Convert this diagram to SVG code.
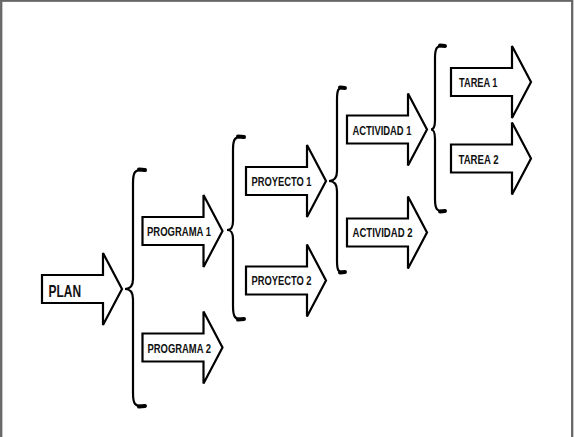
<svg xmlns="http://www.w3.org/2000/svg" xmlns:xlink="http://www.w3.org/1999/xlink" width="574" height="437" viewBox="0 0 574 437">
<style>
.arr{fill:#fff;stroke:#000;stroke-width:2.2;stroke-linejoin:miter}
.lbl{font-family:"Liberation Sans",Arial,sans-serif;font-weight:bold;font-size:12.5px;fill:#111}
.big{font-size:17px}
.brace{fill:none;stroke:#000;stroke-width:2.2;stroke-linecap:round}
.tip{fill:none;stroke:#000;stroke-width:4;stroke-linecap:round}
</style>
<defs>
<path id="arrow" class="arr" d="M0,-14 H61 V-36 L80,0 L61,36 V14 H0 Z"/>
</defs>
<rect x="1.2" y="0.7" width="571" height="460" fill="#fff" stroke="#666" stroke-width="2.3"/>
<g id="connectors">
<path class="brace" d="M144,170 C135,169 133,172 133,183 L133,279 C133,286 130,289 125,289 C130,289 133,292 133,299 L133,393 C133,404 135,407 144,406"/>
<path class="tip" d="M139,169.5 L145,170"/>
<path class="tip" d="M139,406.5 L145,406"/>
<path class="brace" d="M243,137 C235,136 233,139 233,150 L233,221 C233,228 231,230 227,230 C231,230 233,232 233,239 L233,306 C233,317 235,320 243,319"/>
<path class="tip" d="M238,136.5 L244,137"/>
<path class="tip" d="M238,319.5 L244,319"/>
<path class="brace" d="M344,88 C338,87 337,90 337,100 L337,171 C337,178 334,181 329,181 C334,181 337,184 337,191 L337,260 C337,270 338,273 344,272"/>
<path class="tip" d="M340,87.5 L345,88"/>
<path class="tip" d="M340,272.5 L345,272"/>
<path class="brace" d="M444,46 C437,45 435,48 435,58 L435,120 C435,126 434,129.5 431,129.5 C434,129.5 435,133 435,139 L435,199 C435,209 437,212 444,211"/>
<path class="tip" d="M440,45.5 L445,46"/>
<path class="tip" d="M440,211.5 L445,211"/>
</g>
<g id="plan"><use xlink:href="#arrow" transform="translate(42,289)"/><text class="lbl big" x="48.5" y="296.7" textLength="32.5" lengthAdjust="spacingAndGlyphs">PLAN</text></g>
<g id="programa1"><use xlink:href="#arrow" transform="translate(142.5,231)"/><text class="lbl" x="147" y="235.7" textLength="64" lengthAdjust="spacingAndGlyphs">PROGRAMA 1</text></g>
<g id="programa2"><use xlink:href="#arrow" transform="translate(142.5,347.5)"/><text class="lbl" x="147.5" y="352.7" textLength="63.5" lengthAdjust="spacingAndGlyphs">PROGRAMA 2</text></g>
<g id="proyecto1"><use xlink:href="#arrow" transform="translate(246,181)"/><text class="lbl" x="251.5" y="186" textLength="60" lengthAdjust="spacingAndGlyphs">PROYECTO 1</text></g>
<g id="proyecto2"><use xlink:href="#arrow" transform="translate(246,280.5)"/><text class="lbl" x="251.5" y="285" textLength="60" lengthAdjust="spacingAndGlyphs">PROYECTO 2</text></g>
<g id="actividad1"><use xlink:href="#arrow" transform="translate(347,129.5)"/><text class="lbl" x="352.5" y="135" textLength="59" lengthAdjust="spacingAndGlyphs">ACTIVIDAD 1</text></g>
<g id="actividad2"><use xlink:href="#arrow" transform="translate(347,232.5)"/><text class="lbl" x="352.5" y="237.3" textLength="60" lengthAdjust="spacingAndGlyphs">ACTIVIDAD 2</text></g>
<g id="tarea1"><use xlink:href="#arrow" transform="translate(451,82)"/><text class="lbl" x="459" y="86.7" textLength="38.5" lengthAdjust="spacingAndGlyphs">TAREA 1</text></g>
<g id="tarea2"><use xlink:href="#arrow" transform="translate(451,158.5)"/><text class="lbl" x="458.5" y="164" textLength="40" lengthAdjust="spacingAndGlyphs">TAREA 2</text></g>
</svg>
